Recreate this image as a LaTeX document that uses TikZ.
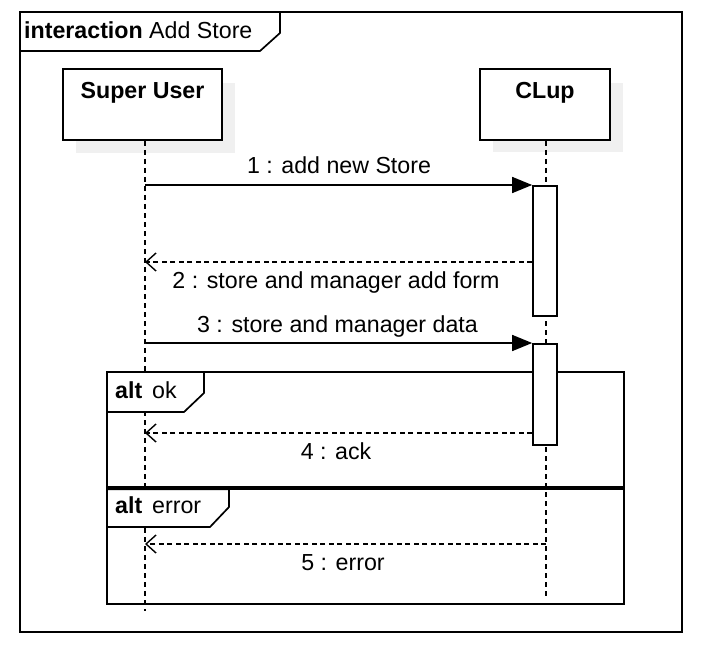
\documentclass[tikz,border=0pt]{standalone}
\usepackage{fontspec}
\setmainfont{Liberation Sans}
\usetikzlibrary{arrows.meta}
\begin{document}
\begin{tikzpicture}[x=1pt,y=-1pt,
  ln/.style={line width=1.7pt},
  lifeln/.style={line width=1.7pt,dash pattern=on 5pt off 4pt},
  msgsync/.style={line width=1.5pt,-{Triangle[length=20pt,width=16pt]}},
  msgret/.style={line width=1.4pt,dash pattern=on 5pt off 3.5pt,-{Straight Barb[length=10pt,width=18pt,line width=1.4pt]}},
  lbl/.style={font=\fontsize{23.2}{26}\selectfont,anchor=base,inner sep=0pt},
  shadowbox/.style={fill=black!6,draw=none},
  actbox/.style={ln,fill=white,draw=black},
  tabshape/.style={ln,fill=white,draw=black}
]
\useasboundingbox (0,0) rectangle (708,660);
% outer frame
\draw[ln] (20,12) rectangle (682,632);
\draw[ln] (20,51) -- (260,51) -- (280,33) -- (280,12);
\node[lbl,anchor=base west] (title) at (24,39) {\textbf{interaction} Add Store};
% lifeline heads
\fill[shadowbox] (76,83) rectangle (235,153);
\draw[ln,fill=white] (63,69) rectangle (222,140);
\node[lbl] (su) at (142.5,99) {\textbf{Super User}};
\fill[shadowbox] (493,83) rectangle (623,152);
\draw[ln,fill=white] (480,69) rectangle (610,140);
\node[lbl] (clup) at (545,99) {\textbf{CLup}};
% lifelines
\coordinate (suT) at (145,141);
\coordinate (suB) at (145,611);
\coordinate (clT) at (546,141);
\coordinate (clB) at (546,598);
\draw[lifeln] (suT) -- (suB);
\draw[lifeln] (clT) -- (clB);
% combined fragments
\draw[ln] (107,372) rectangle (624,486.8);
\draw[tabshape] (107,372) -- (107,412) -- (184,412) -- (204,393) -- (204,372) -- cycle;
\node[lbl,anchor=base west] (alt1) at (115,398) {\textbf{alt}};
\node[lbl,anchor=base west] (ok) at (152,398) {ok};
\draw[ln] (107,489.2) rectangle (624,604);
\draw[tabshape] (107,489.2) -- (107,527) -- (210,527) -- (229,507) -- (229,489.2) -- cycle;
\node[lbl,anchor=base west] (alt2) at (115,513) {\textbf{alt}};
\node[lbl,anchor=base west] (err) at (152,513) {error};
% activations
\node[actbox,minimum width=24pt,minimum height=130pt,inner sep=0pt,anchor=north] (act1) at (545,185) {};
\node[actbox,minimum width=24pt,minimum height=101pt,inner sep=0pt,anchor=north] (act2) at (545,343) {};
% message coordinates on Super User lifeline
\coordinate (s1) at (145,185);
\coordinate (s2) at (145,262);
\coordinate (s3) at (145,343);
\coordinate (s4) at (145,433);
\coordinate (s5) at (145,544);
\coordinate (c5) at (546,544);
% messages
\draw[msgsync] (s1) -- (s1 -| act1.west);
\node[lbl] (m1) at (339,174) {1 : add new Store};
\draw[msgret] (s2 -| act1.west) -- (s2);
\node[lbl] (m2) at (336,288) {2 : store and manager add form};
\draw[msgsync] (s3) -- (s3 -| act2.west);
\node[lbl] (m3) at (337.5,332) {3 : store and manager data};
\draw[msgret] (s4 -| act2.west) -- (s4);
\node[lbl] (m4) at (336,459) {4 : ack};
\draw[msgret] (c5) -- (s5);
\node[lbl] (m5) at (343,570) {5 : error};
\end{tikzpicture}
\end{document}
